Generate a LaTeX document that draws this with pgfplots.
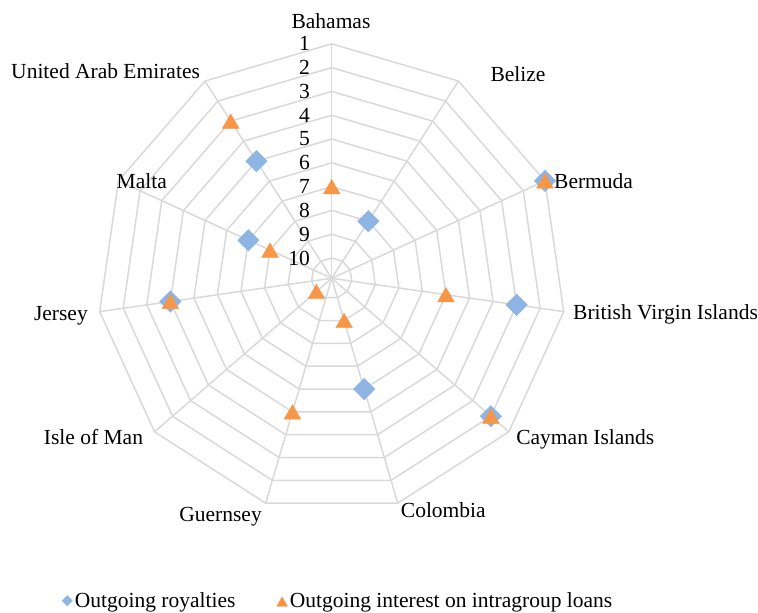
\documentclass[border=0pt]{standalone}
\usepackage{pgfplots}
\pgfplotsset{compat=1.18}
\usepackage{pgfplotstable}
\usepackage{fontspec}
\setmainfont{Liberation Serif}
\definecolor{gridc}{HTML}{D9D9D9}
\definecolor{roy}{HTML}{8DB4E2}
\definecolor{intr}{HTML}{F79646}
\newcommand{\lf}{\fontsize{21.5bp}{25bp}\selectfont}

% k = category index (0 = Bahamas, clockwise), v = rank value
\pgfplotstableread{
k v
1 8
2 1
3 3
4 2
5 6
8 4
9 7
10 5
}\royalties
\pgfplotstableread{
k v
0 7
2 1
3 6
4 2
5 9
6 5
7 10
8 4
9 8
10 3
}\interest

\begin{document}
\begin{tikzpicture}
\begin{axis}[
  x=23.8bp, y=23.8bp,
  xmin=-13.937, xmax=17.912, ymin=-14.063, ymax=11.693,
  hide axis, clip=false,
  legend columns=2,
  legend style={at={(axis cs:-11.33,-13.55)}, anchor=west, draw=none, fill=none,
    inner sep=0pt, font=\lf, nodes={inner sep=2.35bp},
    /tikz/every even column/.append style={column sep=39bp}},
  legend image code/.code={\draw[#1] plot coordinates {(0,0)};},
]
% polygon grid
\pgfplotsinvokeforeach{1,...,10}{
  \draw[gridc, line width=1.5bp] ({(10.85-#1)*sin(0)},{(10.85-#1)*cos(0)})
    \foreach \k in {1,...,10}{ -- ({(10.85-#1)*sin(\k*360/11)},{(10.85-#1)*cos(\k*360/11)}) } -- cycle;
}
% spokes
\pgfplotsinvokeforeach{0,...,10}{
  \draw[gridc, line width=1.5bp] (0,0) -- ({9.85*sin(#1*360/11)},{9.85*cos(#1*360/11)});
}
% radial tick labels
\pgfplotsinvokeforeach{1,...,10}{
  \node[anchor=east, font=\lf, inner sep=0pt] at (axis cs:-0.91,{10.85-#1}) {#1};
}
% category labels
\node[anchor=base, font=\lf, inner sep=0pt] at (axis cs:-0.03,10.475) {Bahamas};
\node[anchor=base, font=\lf, inner sep=0pt] at (axis cs:7.83,8.25) {Belize};
\node[anchor=base west, font=\lf, inner sep=0pt] at (axis cs:9.34,3.79) {Bermuda};
\node[anchor=base west, font=\lf, inner sep=0pt] at (axis cs:10.14,-1.75) {British Virgin Islands};
\node[anchor=base west, font=\lf, inner sep=0pt] at (axis cs:7.75,-7.0) {Cayman Islands};
\node[anchor=base west, font=\lf, inner sep=0pt] at (axis cs:2.90,-10.07) {Colombia};
\node[anchor=base east, font=\lf, inner sep=0pt] at (axis cs:-2.93,-10.2) {Guernsey};
\node[anchor=base east, font=\lf, inner sep=0pt] at (axis cs:-7.92,-7.0) {Isle of Man};
\node[anchor=base east, font=\lf, inner sep=0pt] at (axis cs:-10.24,-1.79) {Jersey};
\node[anchor=base east, font=\lf, inner sep=0pt] at (axis cs:-6.92,3.79) {Malta};
\node[anchor=base east, font=\lf, inner sep=0pt] at (axis cs:-5.53,8.40) {United Arab Emirates};

\addplot[only marks, color=roy, mark=square*, mark size=7.6bp,
  mark options={rotate=45, fill=roy, draw=roy},
  legend image post style={mark size=3.6bp}]
  table[x expr={(10.85-\thisrow{v})*sin(\thisrow{k}*360/11)},
        y expr={(10.85-\thisrow{v})*cos(\thisrow{k}*360/11)}] {\royalties};
\addlegendentry{Outgoing royalties}
\addplot[only marks, color=intr, mark=triangle*, mark size=9.6bp,
  mark options={fill=intr, draw=intr, yshift=-2.4bp},
  legend image post style={mark size=6.2bp}]
  table[x expr={(10.85-\thisrow{v})*sin(\thisrow{k}*360/11)},
        y expr={(10.85-\thisrow{v})*cos(\thisrow{k}*360/11)}] {\interest};
\addlegendentry{Outgoing interest on intragroup loans}
\end{axis}
\pgfresetboundingbox
\path (current axis.south west) rectangle (current axis.north east);
\end{tikzpicture}
\end{document}
